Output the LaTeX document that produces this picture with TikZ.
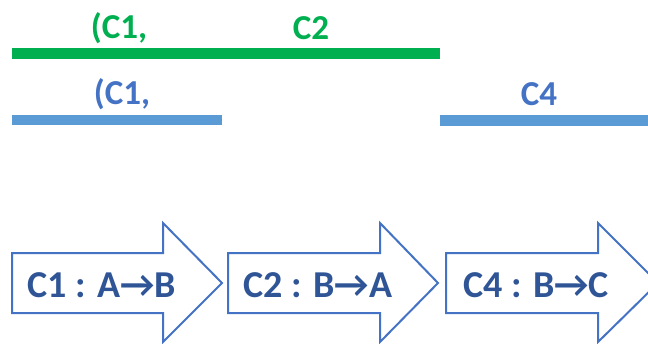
\documentclass[tikz,border=0pt]{standalone}
\usepackage{fontspec}
\setmainfont{Carlito}
\begin{document}
\begin{tikzpicture}[x=1pt,y=-1pt,
  label/.style={font=\bfseries\fontsize{35}{35}\selectfont, inner sep=0pt},
  steptext/.style={font=\bfseries\fontsize{38}{38}\selectfont, text=stepblue, inner sep=0pt},
  bar/.style={line width=#1, line cap=butt},
  arrowbox/.style={draw=arrowblue, line width=2pt, fill=white, line join=miter}]
\definecolor{grn}{HTML}{00B050}
\definecolor{barblue}{HTML}{5B9BD5}
\definecolor{txtblue}{HTML}{4472C4}
\definecolor{arrowblue}{HTML}{4472C4}
\definecolor{stepblue}{HTML}{2F5597}
\useasboundingbox (0,0) rectangle (648,343);

% interval bars
\coordinate (g0) at (12,53.5); \coordinate (g1) at (440,53.5);
\coordinate (b0) at (12,120); \coordinate (b1) at (222,120);
\coordinate (c0) at (440,120.5); \coordinate (c1) at (660,120.5);
\draw[bar=11pt, draw=grn] (g0) -- (g1);
\draw[bar=10pt, draw=barblue] (b0) -- (b1);
\draw[bar=11pt, draw=barblue] (c0) -- (c1);

% interval labels
\node[label, text=grn] (lg1) at (119,28) {(C1,};
\node[label, text=grn] (lg2) at (311,28) {C2};
\node[label, text=txtblue] (lb1) at (122,94) {(C1,};
\node[label, text=txtblue] (lb2) at (539,94) {C4};

% block arrows
\draw[arrowbox] (12,253) -- (163,253) -- (163,223) -- (222,283) -- (163,342) -- (163,313) -- (12,313) -- cycle;
\draw[arrowbox] (228,253) -- (380,253) -- (380,223) -- (438,283) -- (380,342) -- (380,313) -- (228,313) -- cycle;
\draw[arrowbox] (446,253) -- (598,253) -- (598,223) -- (658,283) -- (598,342) -- (598,313) -- (446,313) -- cycle;

\node[steptext] (s1) at (102,285) {C1 : A→B};
\node[steptext] (s2) at (318,285) {C2 : B→A};
\node[steptext] (s3) at (536,285) {C4 : B→C};
\end{tikzpicture}
\end{document}
